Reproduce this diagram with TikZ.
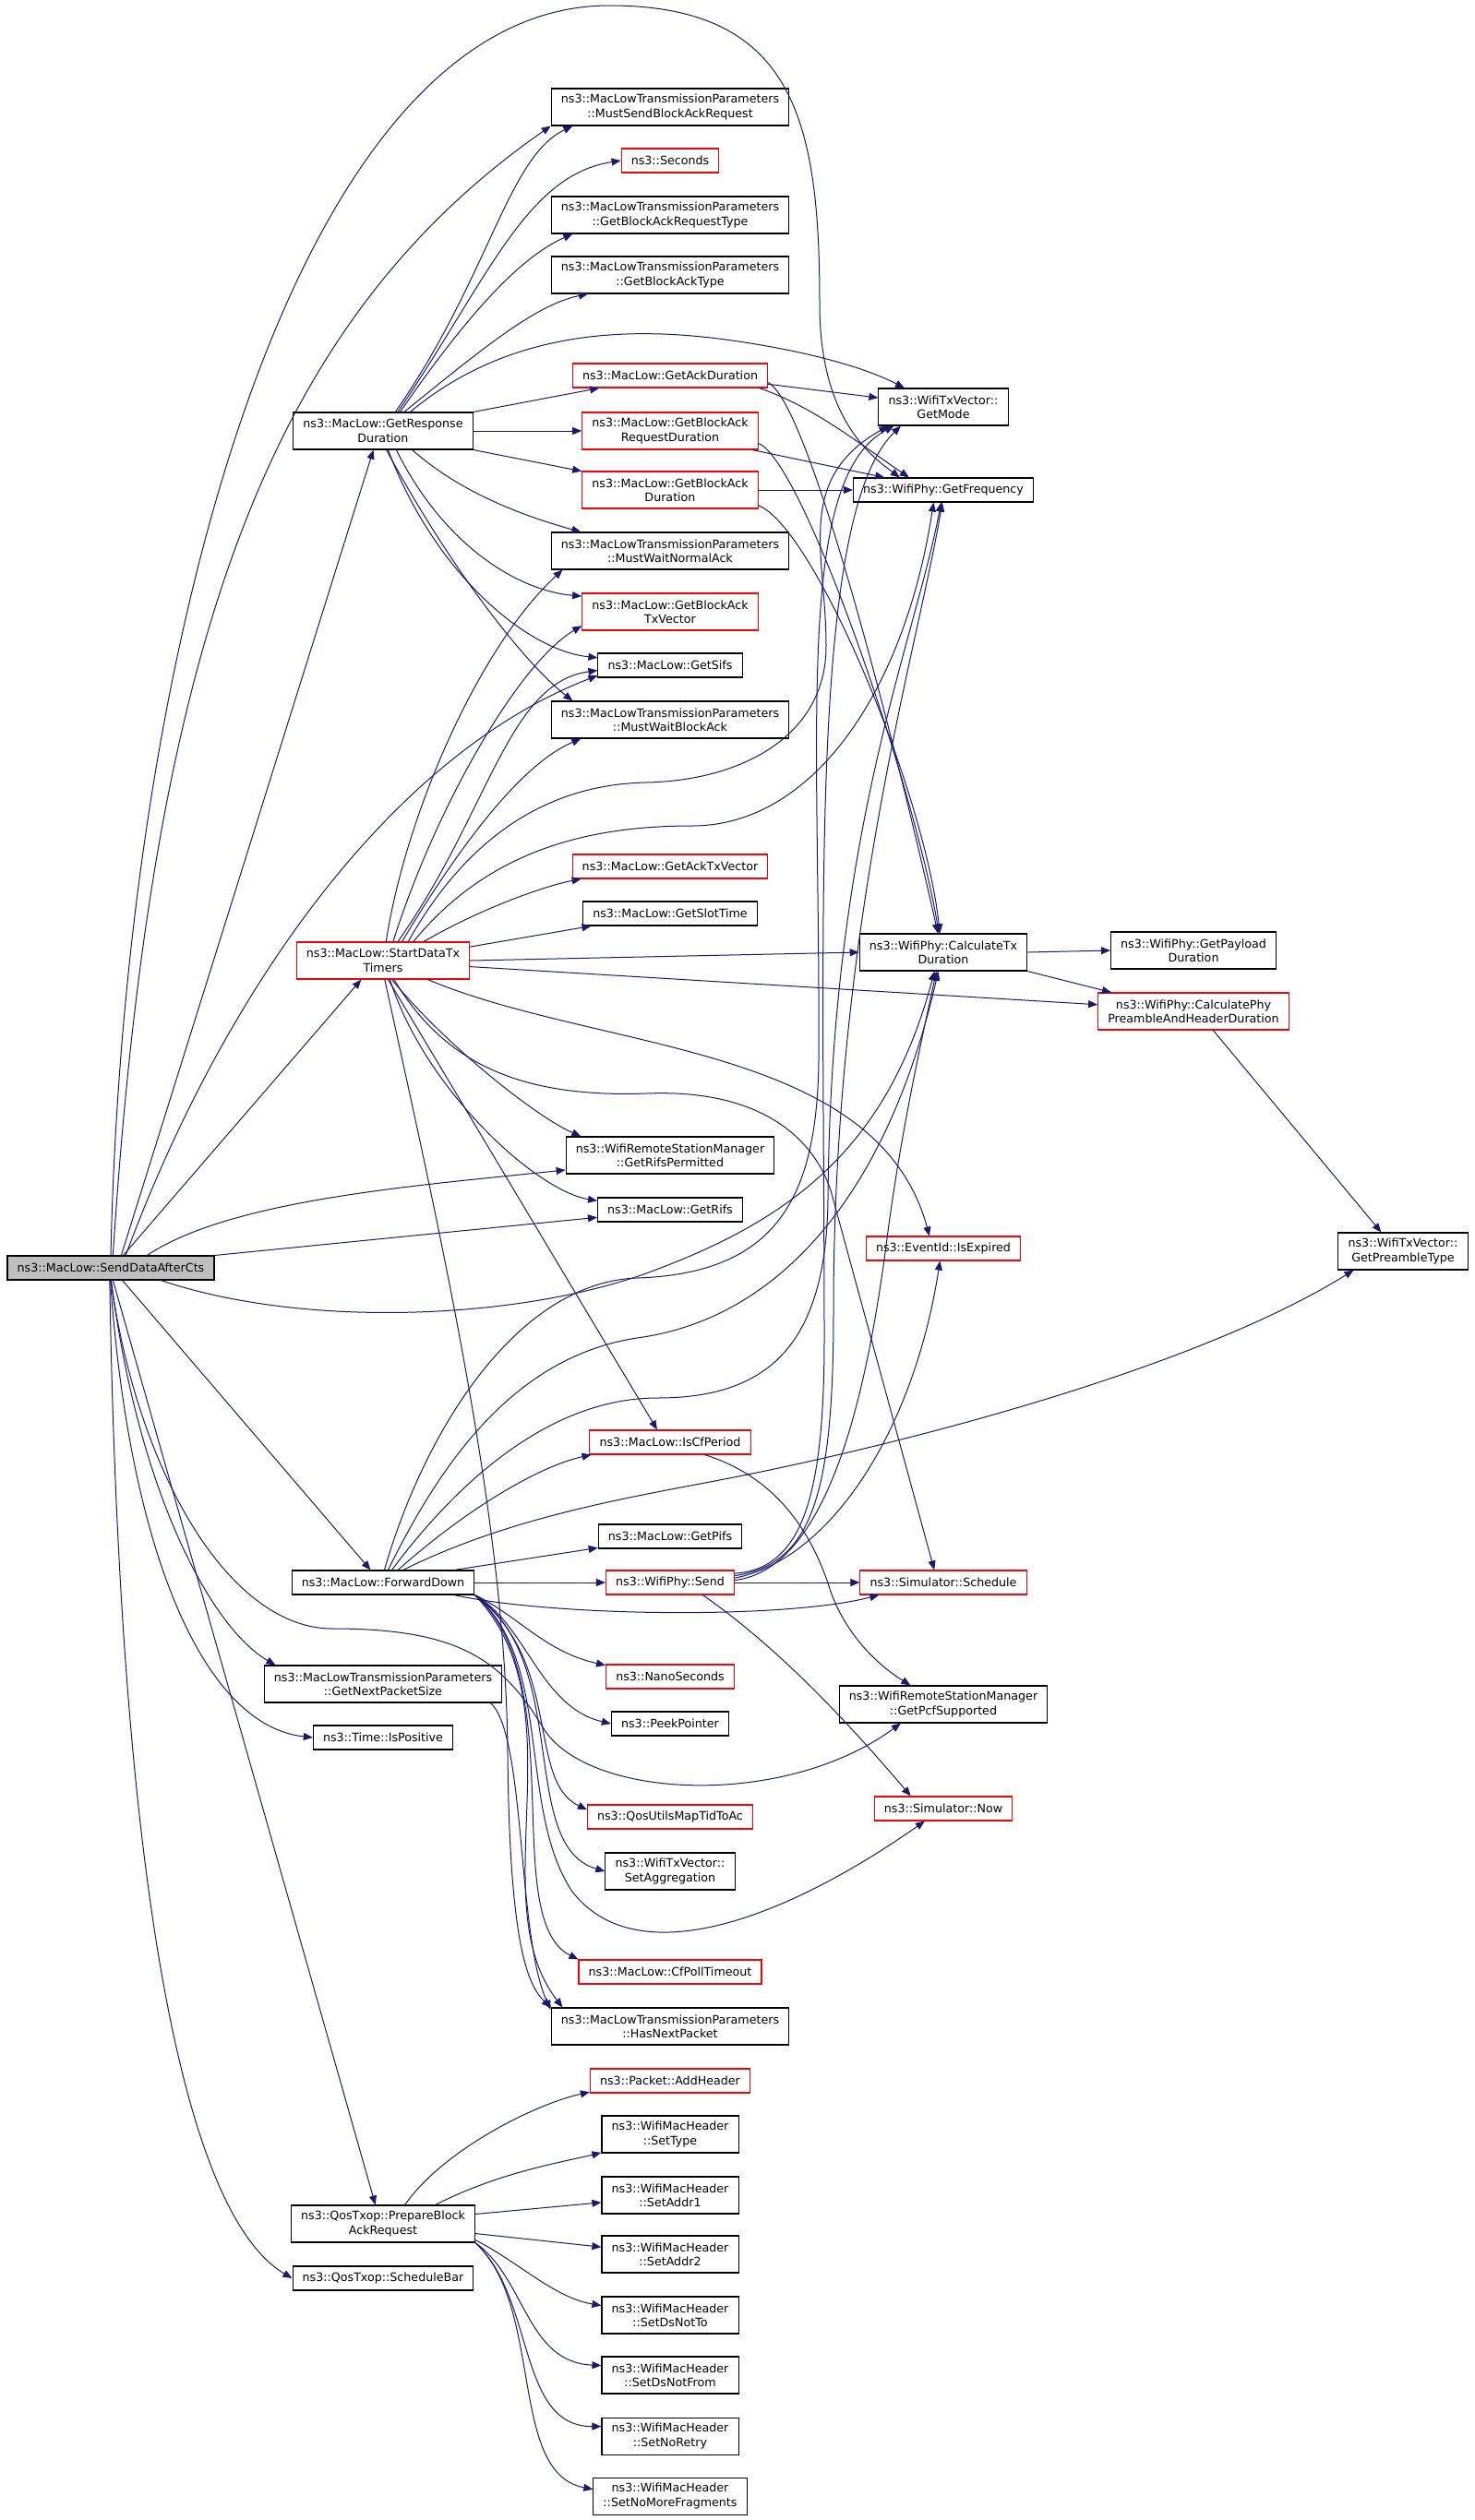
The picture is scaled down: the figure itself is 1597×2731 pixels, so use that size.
\documentclass[tikz,border=0pt]{standalone}
\usepackage{fontspec}
\setsansfont{DejaVu Sans}
\usepackage{tikz}
\usetikzlibrary{arrows.meta}
\definecolor{callblue}{HTML}{191970}
\definecolor{rootgrey}{HTML}{BFBFBF}
\tikzset{
	>={Triangle[length=7.5pt,width=6pt]},
	funcbox/.style={
		rectangle,
		draw=black, line width=0.8pt,
		fill=white,
		inner xsep=8pt, inner ysep=2pt,
		minimum height=19.5pt,
		align=center},
	twoline/.style={minimum height=30pt},
	truncbox/.style={funcbox, draw=red},
	rootbox/.style={funcbox, fill=rootgrey},
	call/.style={draw=callblue, line width=0.75pt, ->},
}

\begin{document}
\begin{tikzpicture}
	[x=0.75pt, y=-0.75pt,
	font=\sffamily\fontsize{9.5}{11.5}\selectfont]

	\useasboundingbox (0,0) rectangle (1597,2731);

	\node[rootbox] (senddata) at (120,1374) {ns3::MacLow::SendDataAfterCts};

	\node[funcbox,twoline] (respdur) at (415,467) {ns3::MacLow::GetResponse\\Duration};
	\node[truncbox,twoline] (txtimers) at (415,1041) {ns3::MacLow::StartDataTx\\Timers};
	\node[funcbox] (fwddown) at (415,1715) {ns3::MacLow::ForwardDown};
	\node[funcbox,twoline] (nextsize) at (415,1825) {ns3::MacLowTransmissionParameters\\::GetNextPacketSize};
	\node[funcbox] (ispos) at (415,1883) {ns3::Time::IsPositive};
	\node[funcbox,twoline] (prepbar) at (415,2410) {ns3::QosTxop::PrepareBlock\\AckRequest};
	\node[funcbox] (schedbar) at (415,2469) {ns3::QosTxop::ScheduleBar};

	\node[funcbox,twoline] (mustsendbar) at (726,116) {ns3::MacLowTransmissionParameters\\::MustSendBlockAckRequest};
	\node[truncbox] (seconds) at (726,174) {ns3::Seconds};
	\node[funcbox,twoline] (bartype) at (726,233) {ns3::MacLowTransmissionParameters\\::GetBlockAckRequestType};
	\node[funcbox,twoline] (batype) at (726,298) {ns3::MacLowTransmissionParameters\\::GetBlockAckType};
	\node[truncbox] (ackdur) at (726,407) {ns3::MacLow::GetAckDuration};
	\node[truncbox,twoline] (bardur) at (726,467) {ns3::MacLow::GetBlockAck\\RequestDuration};
	\node[truncbox,twoline] (badur) at (726,531) {ns3::MacLow::GetBlockAck\\Duration};
	\node[funcbox,twoline] (waitnormal) at (726,597) {ns3::MacLowTransmissionParameters\\::MustWaitNormalAck};
	\node[truncbox,twoline] (batxvec) at (726,663) {ns3::MacLow::GetBlockAck\\TxVector};
	\node[funcbox] (sifs) at (726,721) {ns3::MacLow::GetSifs};
	\node[funcbox,twoline] (waitba) at (726,780) {ns3::MacLowTransmissionParameters\\::MustWaitBlockAck};
	\node[truncbox] (acktxvec) at (726,939) {ns3::MacLow::GetAckTxVector};
	\node[funcbox] (slottime) at (726,990) {ns3::MacLow::GetSlotTime};
	\node[funcbox,twoline] (rifsperm) at (726,1252) {ns3::WifiRemoteStationManager\\::GetRifsPermitted};
	\node[funcbox] (rifs) at (726,1311) {ns3::MacLow::GetRifs};
	\node[truncbox] (cfperiod) at (726,1563) {ns3::MacLow::IsCfPeriod};
	\node[funcbox] (pifs) at (726,1665) {ns3::MacLow::GetPifs};
	\node[truncbox] (physend) at (726,1715) {ns3::WifiPhy::Send};
	\node[truncbox] (nanosec) at (726,1817) {ns3::NanoSeconds};
	\node[funcbox] (peekptr) at (726,1868) {ns3::PeekPointer};
	\node[truncbox] (mapac) at (726,1969) {ns3::QosUtilsMapTidToAc};
	\node[funcbox,twoline] (setaggr) at (726,2028) {ns3::WifiTxVector::\\SetAggregation};
	\node[truncbox] (cfpoll) at (726,2137) {ns3::MacLow::CfPollTimeout};
	\node[funcbox,twoline] (hasnext) at (726,2196) {ns3::MacLowTransmissionParameters\\::HasNextPacket};
	\node[truncbox] (addhdr) at (726,2255) {ns3::Packet::AddHeader};
	\node[funcbox,twoline] (settype) at (726,2313) {ns3::WifiMacHeader\\::SetType};
	\node[funcbox,twoline] (setaddr1) at (726,2379) {ns3::WifiMacHeader\\::SetAddr1};
	\node[funcbox,twoline] (setaddr2) at (726,2443) {ns3::WifiMacHeader\\::SetAddr2};
	\node[funcbox,twoline] (dsnotto) at (726,2509) {ns3::WifiMacHeader\\::SetDsNotTo};
	\node[funcbox,twoline] (dsnotfrom) at (726,2574) {ns3::WifiMacHeader\\::SetDsNotFrom};
	\node[funcbox,twoline] (noretry) at (726,2640) {ns3::WifiMacHeader\\::SetNoRetry};
	\node[funcbox,twoline] (nomorefrag) at (726,2705) {ns3::WifiMacHeader\\::SetNoMoreFragments};

	\node[funcbox,twoline] (getmode) at (1022,441) {ns3::WifiTxVector::\\GetMode};
	\node[funcbox] (getfreq) at (1022,531) {ns3::WifiPhy::GetFrequency};
	\node[funcbox,twoline] (calctx) at (1022,1032) {ns3::WifiPhy::CalculateTx\\Duration};
	\node[truncbox] (isexp) at (1022,1353) {ns3::EventId::IsExpired};
	\node[truncbox] (simsched) at (1022,1715) {ns3::Simulator::Schedule};
	\node[funcbox,twoline] (pcfsupp) at (1022,1847) {ns3::WifiRemoteStationManager\\::GetPcfSupported};
	\node[truncbox] (simnow) at (1022,1960) {ns3::Simulator::Now};
	\node[funcbox,twoline] (payload) at (1293,1030) {ns3::WifiPhy::GetPayload\\Duration};
	\node[truncbox,twoline] (preamble) at (1293,1096) {ns3::WifiPhy::CalculatePhy\\PreambleAndHeaderDuration};
	\node[funcbox,twoline] (preambletype) at (1520,1356) {ns3::WifiTxVector::\\GetPreambleType};

	\draw[call] (senddata.north) .. controls (135,700) and (320,6) .. (660,6) .. controls (860,6) and (888,130) .. (888,330) .. controls (888,455) and (945,495) .. (getfreq.164);
	\draw[call] (senddata.80) .. controls (165,700) and (290,350) .. (mustsendbar.189);
	\draw[call] (senddata.50) -- (respdur.243);
	\draw[call] (senddata.40) .. controls (240,1080) and (420,820) .. (sifs.188);
	\draw[call] (senddata.45) -- (txtimers.221);
	\draw[call] (senddata.19) .. controls (250,1300) and (450,1285) .. (rifsperm.188);
	\draw[call] (senddata.north east) -- (rifs.186);
	\draw[call] (senddata.-14) .. controls (330,1440) and (560,1430) .. (700,1380) .. controls (850,1325) and (960,1250) .. (calctx.-115);
	\draw[call] (senddata.-47) -- (fwddown.135);
	\draw[call] (senddata.south) .. controls (150,1600) and (250,1765) .. (360,1765) .. controls (500,1765) and (545,1800) .. (590,1875) .. controls (640,1950) and (850,1960) .. (pcfsupp.204);
	\draw[call] (senddata.-88) .. controls (150,1620) and (230,1765) .. (nextsize.170);
	\draw[call] (senddata.-92) .. controls (140,1680) and (220,1870) .. (ispos.west);
	\draw[call] (senddata.-80) -- (prepbar.112);
	\draw[call] (senddata.-95) .. controls (130,2050) and (200,2400) .. (schedbar.west);

	\draw[call] (respdur.57) .. controls (530,300) and (550,170) .. (mustsendbar.191);
	\draw[call] (respdur.52) .. controls (530,300) and (570,190) .. (seconds.west);
	\draw[call] (respdur.48) .. controls (500,350) and (560,280) .. (bartype.191);
	\draw[call] (respdur.42) .. controls (520,380) and (580,330) .. (batype.193);
	\draw[call] (respdur.35) .. controls (560,350) and (700,355) .. (800,370) .. controls (900,385) and (950,405) .. (getmode.154);
	\draw[call] (respdur.north east) -- (ackdur.190);
	\draw[call] (respdur.east) -- (bardur.west);
	\draw[call] (respdur.south east) -- (badur.168);
	\draw[call] (respdur.-33) .. controls (500,535) and (570,560) .. (waitnormal.168);
	\draw[call] (respdur.-55) .. controls (480,590) and (560,640) .. (batxvec.170);
	\draw[call] (respdur.-75) .. controls (470,620) and (570,705) .. (sifs.174);
	\draw[call] (respdur.-80) .. controls (490,620) and (570,720) .. (waitba.169);

	\draw[call] (ackdur.-5) -- (getmode.172);
	\draw[call] (ackdur.-8) .. controls (880,440) and (930,480) .. (getfreq.160);
	\draw[call] (ackdur.-4) .. controls (880,440) and (980,850) .. (calctx.106);
	\draw[call] (bardur.-13) -- (getfreq.168);
	\draw[call] (bardur.-8) .. controls (870,500) and (990,850) .. (calctx.103);
	\draw[call] (badur.east) -- (getfreq.west);
	\draw[call] (badur.-10) .. controls (880,570) and (1000,850) .. (calctx.100);

	\draw[call] (txtimers.81) .. controls (440,880) and (520,700) .. (waitnormal.190);
	\draw[call] (txtimers.62) .. controls (470,880) and (560,720) .. (batxvec.189);
	\draw[call] (txtimers.52) .. controls (530,880) and (550,740) .. (sifs.184);
	\draw[call] (txtimers.45) .. controls (490,930) and (560,830) .. (waitba.192);
	\draw[call] (txtimers.37) .. controls (510,900) and (600,850) .. (700,848) .. controls (800,846) and (895,800) .. (895,700) .. controls (895,600) and (860,520) .. (getmode.199);
	\draw[call] (txtimers.32) .. controls (530,920) and (640,895) .. (750,895) .. controls (880,895) and (980,750) .. (getfreq.232);
	\draw[call] (txtimers.25) .. controls (520,985) and (590,960) .. (acktxvec.188);
	\draw[call] (txtimers.9) -- (slottime.189);
	\draw[call] (txtimers.east) -- (calctx.west);
	\draw[call] (txtimers.-4) -- (preamble.176);
	\draw[call] (txtimers.-23) .. controls (650,1140) and (950,1130) .. (isexp.138);
	\draw[call] (txtimers.-60) .. controls (480,1150) and (560,1190) .. (700,1185) .. controls (820,1180) and (880,1230) .. (900,1290) -- (simsched.126);
	\draw[call] (txtimers.-65) .. controls (480,1130) and (580,1210) .. (rifsperm.168);
	\draw[call] (txtimers.-70) .. controls (460,1180) and (580,1290) .. (rifs.173);
	\draw[call] (txtimers.-75) -- (cfperiod.136);
	\draw[call] (txtimers.-85) .. controls (480,1350) and (548,1650) .. (550,1900) .. controls (552,2100) and (570,2150) .. (hasnext.171);

	\draw[call] (calctx.east) -- (payload.west);
	\draw[call] (calctx.south east) -- (preamble.167);
	\draw[call] (preamble.-44) -- (preambletype.139);

	\draw[call] (fwddown.84) .. controls (460,1550) and (560,1390) .. (690,1385) .. controls (840,1380) and (885,1300) .. (887,1150) .. controls (889,800) and (860,520) .. (getmode.201);
	\draw[call] (fwddown.68) .. controls (480,1580) and (560,1470) .. (690,1450) .. controls (840,1430) and (960,1300) .. (calctx.-105);
	\draw[call] (fwddown.55) .. controls (500,1600) and (600,1515) .. (712,1515) .. controls (830,1515) and (895,1460) .. (897,1300) .. controls (900,900) and (990,700) .. (getfreq.-100);
	\draw[call] (fwddown.40) .. controls (500,1640) and (580,1590) .. (cfperiod.189);
	\draw[call] (fwddown.32) .. controls (560,1640) and (700,1620) .. (800,1600) .. controls (1000,1560) and (1300,1480) .. (preambletype.201);
	\draw[call] (fwddown.10) -- (pifs.189);
	\draw[call] (fwddown.east) -- (physend.west);
	\draw[call] (fwddown.-10) .. controls (600,1752) and (850,1755) .. (simsched.191);
	\draw[call] (fwddown.south east) .. controls (560,1750) and (590,1790) .. (nanosec.170);
	\draw[call] (fwddown.south east) .. controls (570,1760) and (585,1850) .. (peekptr.west);
	\draw[call] (fwddown.south east) .. controls (610,1800) and (570,1930) .. (mapac.175);
	\draw[call] (fwddown.south east) .. controls (620,1800) and (560,2000) .. (setaggr.west);
	\draw[call] (fwddown.south east) .. controls (620,1820) and (540,2080) .. (cfpoll.north west);
	\draw[call] (fwddown.south east) .. controls (630,1850) and (520,2060) .. (hasnext.170);
	\draw[call] (fwddown.south east) .. controls (600,1800) and (560,1960) .. (620,2050) .. controls (690,2140) and (850,2080) .. (simnow.214);

	\draw[call] (nextsize.-10) .. controls (570,1880) and (560,2100) .. (hasnext.172);

	\draw[call] (physend.east) -- (simsched.west);
	\draw[call] (physend.4) .. controls (900,1690) and (990,1550) .. (isexp.-105);
	\draw[call] (physend.8) .. controls (870,1700) and (893,1620) .. (893,1450) .. controls (893,1000) and (875,560) .. (getmode.204);
	\draw[call] (physend.6) .. controls (880,1695) and (903,1620) .. (903,1420) .. controls (903,1000) and (995,700) .. (getfreq.-95);
	\draw[call] (physend.2) .. controls (900,1700) and (940,1500) .. (960,1350) .. controls (975,1230) and (1000,1120) .. (calctx.-110);
	\draw[call] (physend.-21) .. controls (850,1790) and (930,1880) .. (simnow.159);

	\draw[call] (cfperiod.-20) .. controls (840,1600) and (880,1660) .. (900,1725) .. controls (920,1780) and (960,1810) .. (pcfsupp.150);

	\draw[call] (prepbar.41) .. controls (480,2330) and (580,2280) .. (addhdr.188);
	\draw[call] (prepbar.20) .. controls (540,2355) and (600,2345) .. (settype.195);
	\draw[call] (prepbar.6) -- (setaddr1.186);
	\draw[call] (prepbar.-6) -- (setaddr2.174);
	\draw[call] (prepbar.-10) .. controls (560,2450) and (600,2490) .. (dsnotto.172);
	\draw[call] (prepbar.south east) .. controls (570,2470) and (570,2560) .. (dsnotfrom.172);
	\draw[call] (prepbar.south east) .. controls (580,2490) and (560,2630) .. (noretry.172);
	\draw[call] (prepbar.south east) .. controls (590,2500) and (550,2680) .. (nomorefrag.175);

\end{tikzpicture}
\end{document}
